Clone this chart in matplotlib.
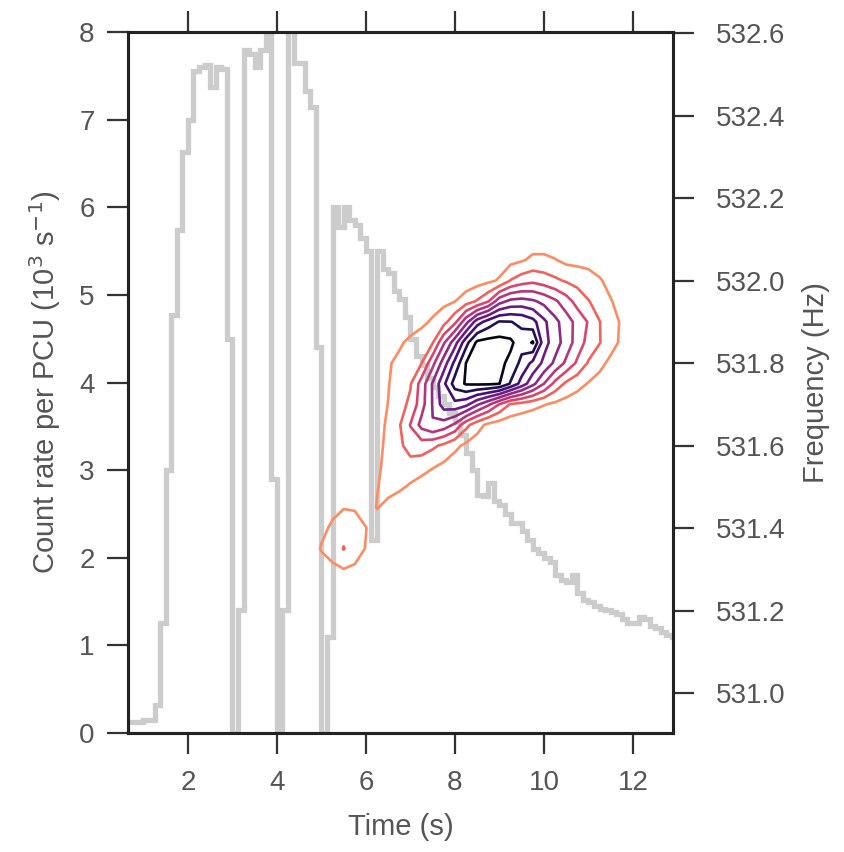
import matplotlib.pyplot as plt
import numpy as np

plt.rcParams['font.family'] = ['Liberation Sans', 'DejaVu Sans']

# Light curve: count rate per PCU (10^3 counts/s) in 0.125 s bins starting at 0.625 s
bin_start = 0.625
bin_width = 0.125
rate = [0.12, 0.12, 0.13, 0.15, 0.15, 0.32, 1.25, 3.0, 4.77, 5.74,
        6.63, 7.0, 7.55, 7.6, 7.62, 7.37, 7.6, 7.58, 4.5, 0.0,
        1.4, 7.8, 7.75, 7.6, 7.8, 8.4, 2.9, 0.0, 1.4, 8.3,
        7.65, 7.65, 7.33, 7.15, 4.4, 0.0, 1.1, 6.0, 5.78, 6.0,
        5.85, 5.8, 5.65, 5.5, 2.2, 5.5, 5.3, 5.25, 5.05, 4.95,
        4.75, 4.5, 4.3, 4.2, 4.05, 3.95, 3.85, 3.75, 3.65, 3.55,
        3.4, 3.2, 3.0, 2.72, 2.7, 2.85, 2.65, 2.6, 2.5, 2.4,
        2.4, 2.3, 2.2, 2.1, 2.05, 2.0, 1.95, 1.8, 1.75, 1.72,
        1.8, 1.6, 1.52, 1.5, 1.45, 1.42, 1.4, 1.38, 1.36, 1.3,
        1.25, 1.25, 1.32, 1.3, 1.22, 1.2, 1.15, 1.12, 1.1]
edges = bin_start + bin_width * np.arange(len(rate) + 1)

# Dynamic power map: time columns 4.75..12.0 s (0.25 s), frequency rows 531.25..532.10 Hz (0.05 Hz)
t_grid = np.arange(4.75, 12.01, 0.25)
f_grid = np.arange(531.25, 532.101, 0.05)
power = np.array([
    # 531.25
    [0]*30,
    # 531.30
    [0, 0.4, 0.8, 0.98, 0.85, 0.3] + [0]*24,
    # 531.35
    [0.3, 1.1, 1.4, 2.05, 1.45, 0.95, 0.3] + [0]*23,
    # 531.40
    [0.2, 0.7, 1.2, 1.6, 1.5, 1.03, 0.4, 0.1] + [0]*22,
    # 531.45
    [0, 0.3, 0.7, 0.95, 0.9, 0.5, 1.05, 0.7, 0.3] + [0]*21,
    # 531.50
    [0, 0, 0, 0, 0, 0.4, 0.95, 1.35, 1.2, 0.85, 0.5, 0.2] + [0]*18,
    # 531.55
    [0, 0, 0, 0, 0, 0.3, 0.8, 1.35, 1.6, 1.65, 1.45, 1.1, 0.8, 0.5, 0.3, 0.1] + [0]*14,
    # 531.60
    [0, 0, 0, 0, 0, 0.3, 0.7, 1.26, 1.8, 2.4, 2.5, 2.2, 1.79, 1.23, 0.8, 0.5, 0.3, 0.1] + [0]*12,
    # 531.65
    [0, 0, 0, 0, 0, 0.3, 0.6, 1.18, 1.9, 3.05, 4.33, 4.96, 4.56, 3.8, 2.3, 1.38, 0.75, 0.5,
     0.35, 0.2, 0.1] + [0]*9,
    # 531.70
    [0, 0, 0, 0, 0, 0.3, 0.6, 1.02, 1.65, 2.2, 3.59, 5.07, 6.49, 6.7, 6.3, 5.16, 4.2, 2.95,
     1.9, 1.62, 1.34, 1.06, 0.8, 0.6, 0.4, 0.2, 0, 0, 0, 0],
    # 531.75
    [0, 0, 0, 0, 0, 0.2, 0.5, 0.95, 1.42, 1.92, 3.43, 5.1, 6.79, 8.46, 9.1, 9.15, 9.15, 9.02,
     7.9, 6.6, 5.3, 4.0, 2.7, 1.8, 1.36, 0.93, 0.6, 0.35, 0.1, 0],
    # 531.80
    [0, 0, 0, 0, 0, 0.2, 0.6, 0.9, 1.23, 1.6, 1.98, 3.7, 5.5, 7.28, 9.02, 9.4, 9.6, 9.3,
     8.7, 7.72, 6.74, 5.76, 4.78, 3.8, 2.82, 1.9, 1.3, 0.75, 0.45, 0.2],
    # 531.85
    [0, 0, 0, 0, 0, 0, 0.2, 0.5, 0.85, 1.23, 1.59, 1.94, 3.86, 5.6, 7.65, 9.21, 9.37, 9.36,
     9.22, 8.38, 9.1, 6.39, 5.48, 4.54, 3.58, 2.64, 2.05, 1.39, 0.8, 0.5],
    # 531.90
    [0, 0, 0, 0, 0, 0, 0, 0, 0.3, 0.5, 0.75, 1.16, 1.67, 2.76, 4.65, 6.53, 7.45, 8.08,
     8.03, 7.81, 7.34, 6.22, 5.28, 4.48, 3.67, 2.92, 2.03, 1.46, 0.85, 0.55],
    # 531.95
    [0, 0, 0, 0, 0, 0, 0, 0, 0, 0, 0.3, 0.5, 0.75, 0.98, 1.55, 2.1, 2.94, 4.61,
     5.26, 5.38, 5.15, 4.72, 4.17, 3.44, 2.63, 2.05, 1.58, 1.05, 0.7, 0.4],
    # 532.00
    [0, 0, 0, 0, 0, 0, 0, 0, 0, 0, 0, 0, 0, 0.2, 0.4, 0.6, 0.8, 1.11,
     2.05, 2.51, 2.76, 2.51, 2.19, 1.9, 1.67, 1.38, 1.08, 0.75, 0.5, 0.2],
    # 532.05
    [0, 0, 0, 0, 0, 0, 0, 0, 0, 0, 0, 0, 0, 0, 0, 0.3, 0.4, 0.5,
     0.7, 0.9, 1.2, 1.2, 1.05, 0.75, 0.7, 0.7, 0.6, 0.4, 0.2, 0],
    # 532.10
    [0]*19 + [0.3, 0.5, 0.5, 0.3] + [0]*7,
])
levels = [1, 2, 3, 4, 5, 6, 7, 8, 9]

fig = plt.figure(figsize=(8.44, 8.52), dpi=100)
ax = fig.add_axes([0.1517, 0.1397, 0.6457, 0.8227])

# Light curve
ax.stairs(rate, edges, color='#cccccc', linewidth=3.8)
ax.set_xlim(0.655, 12.9)
ax.set_ylim(0, 8)

# Frequency contours on a second y axis
ax2 = ax.twinx()
line_colors = plt.cm.magma(np.linspace(0.76, 0.05, len(levels)))
ax2.contour(t_grid, f_grid, power, levels=levels, colors=line_colors, linewidths=1.9)
ax2.set_ylim(530.903, 532.603)
ax2.set_yticks(np.arange(531.0, 532.61, 0.2))
ax2.set_yticklabels(['%.1f' % v for v in np.arange(531.0, 532.61, 0.2)])

ax.set_xticks([2, 4, 6, 8, 10, 12])
ax.set_yticks(range(0, 9))

text_color = '#555555'
for a in (ax, ax2):
    for sp in a.spines.values():
        sp.set_linewidth(2.2)
        sp.set_color('#222222')
ax.tick_params(axis='both', direction='out', length=15, width=1.6, color='#333333',
               labelsize=20, labelcolor=text_color, top=True)
ax.tick_params(axis='x', pad=12)
ax.tick_params(axis='y', pad=9)
ax2.tick_params(axis='y', direction='out', length=15, width=1.6, color='#333333',
                labelsize=20, labelcolor=text_color, pad=16)

ax.set_xlabel('Time (s)', fontsize=21, color=text_color, labelpad=12)
ax.set_ylabel('Count rate per PCU (10$^3$ s$^{-1}$)', fontsize=21, color=text_color, labelpad=12)
ax2.set_ylabel('Frequency (Hz)', fontsize=21, color=text_color, labelpad=12)

fig.savefig('out.png', dpi=100)
